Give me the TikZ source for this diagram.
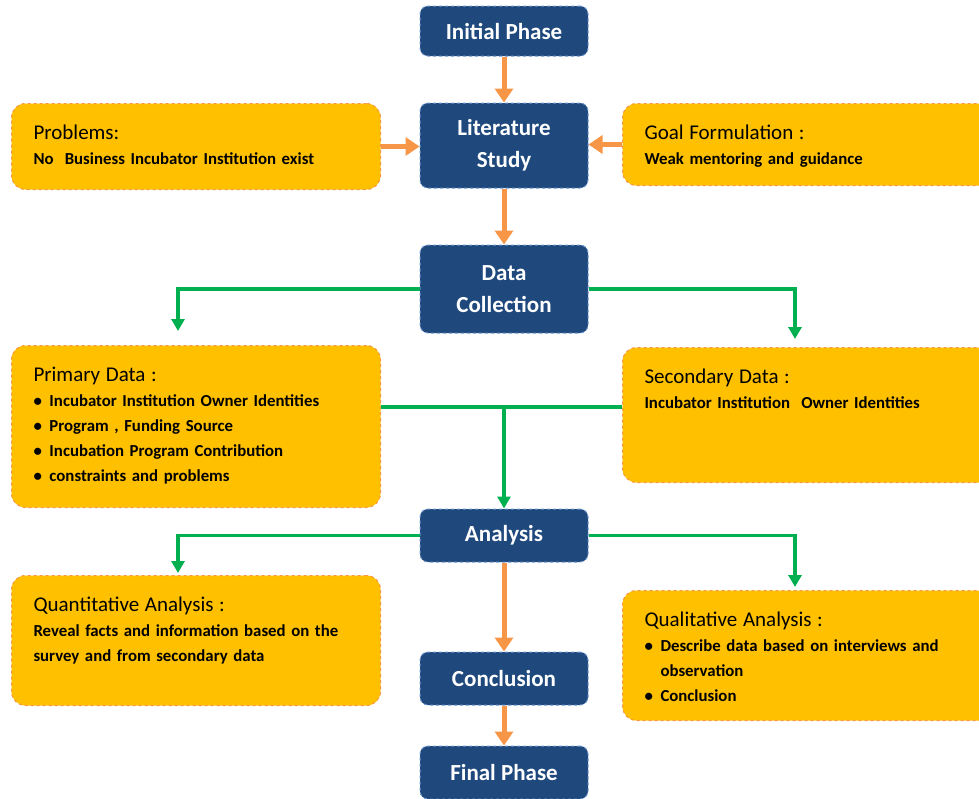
\documentclass[tikz,border=0pt]{standalone}
\usepackage{fontspec}
\setmainfont{Carlito}
\usetikzlibrary{arrows.meta}
\definecolor{navy}{RGB}{31,73,125}
\definecolor{navyline}{RGB}{110,150,205}
\definecolor{gold}{RGB}{255,192,0}
\definecolor{goldline}{RGB}{247,150,70}
\definecolor{orng}{RGB}{247,150,70}
\definecolor{grn}{RGB}{0,176,80}
\newcommand\hd[1]{{\fontsize{21}{25}\selectfont\mdseries #1}\\}
\newcommand\itm{\makebox[16pt][l]{\textbullet}}

\begin{document}
\begin{tikzpicture}[x=1pt,y=-1pt,
    bbox/.style={fill=navy, draw=navyline, dashed, line width=1pt, rounded corners=8pt,
        minimum width=168pt, text=white, align=center,
        font=\fontsize{23}{32}\selectfont\bfseries},
    ybox/.style={fill=gold, draw=goldline, dashed, line width=1pt, rounded corners=14pt,
        anchor=north west, inner xsep=22pt, inner ysep=14pt, text height=22pt, align=left,
        font=\fontsize{16.8}{25}\selectfont\bfseries},
    oarr/.style={draw=orng, line width=5pt, -{Triangle[width=18pt,length=14pt]}},
    gline/.style={draw=grn, line width=3.5pt},
    garr/.style={gline, -{Triangle[width=13pt,length=12pt]}}]
    \useasboundingbox (0,0) rectangle (979,798);

    \node[bbox, minimum height=50pt] (init) at (504,31) {Initial Phase};
    \node[bbox, minimum height=85pt] (lit) at (504,145.5) {Literature\\Study};
    \node[bbox, minimum height=88pt] (data) at (504,289) {Data\\Collection};
    \node[bbox, minimum height=53pt] (ana) at (504,535.5) {Analysis};
    \node[bbox, minimum height=53pt] (conc) at (504,678.5) {Conclusion};
    \node[bbox, minimum height=53pt] (fin) at (504,772.5) {Final Phase};

    \node[ybox, text width=325pt, text depth=36pt] (prob) at (11,103)
        {\hd{Problems:}No\ \ Business Incubator Institution exist};
    \node[ybox, text width=336pt, text depth=32pt] (goal) at (622,103)
        {\hd{Goal\ Formulation :}Weak mentoring and guidance};
    \node[ybox, text width=325pt, text depth=112pt] (prim) at (11,345)
        {\hd{Primary Data :}\itm Incubator Institution Owner Identities\\
         \itm Program , Funding Source\\
         \itm Incubation Program Contribution\\
         \itm constraints and problems};
    \node[ybox, text width=336pt, text depth=85pt] (sec) at (622,347)
        {\hd{Secondary Data :}Incubator Institution\ \ Owner Identities};
    \node[ybox, text width=325pt, text depth=80pt] (quan) at (11,575)
        {\hd{Quantitative Analysis :}Reveal facts and information based on the\\
         survey and from secondary data};
    \node[ybox, text width=336pt, text depth=80pt] (qual) at (622,590)
        {\hd{Qualitative\ Analysis :}\itm Describe data based on interviews and\\
         \hspace*{16pt}observation\\
         \itm Conclusion};

    \coordinate (pl) at (178,0);
    \coordinate (pr) at (795,0);
    \coordinate (mid) at (504,407);

    \draw[oarr] (init) -- (lit);
    \draw[oarr] (lit) -- (data);
    \draw[oarr] (prob.east) -- (prob.east -| lit.west);
    \draw[oarr] (goal.west) -- (goal.west -| lit.east);
    \draw[oarr] (ana) -- (conc);
    \draw[oarr] (conc) -- (fin);

    \draw[garr, shorten >=14pt] (data.west) -| (pl |- prim.north);
    \draw[garr, shorten >=8pt] (data.east) -| (pr |- sec.north);
    \draw[gline] (prim.east |- mid) -- (sec.west |- mid);
    \draw[garr] (mid) -- (ana.north);
    \draw[garr, shorten >=2pt] (ana.west) -| (pl |- quan.north);
    \draw[garr, shorten >=3pt] (ana.east) -| (pr |- qual.north);
\end{tikzpicture}
\end{document}
